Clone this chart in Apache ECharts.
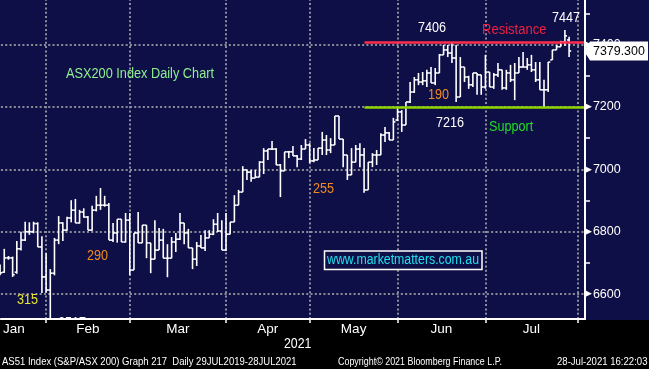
<!DOCTYPE html>
<html><head><meta charset="utf-8">
<script src="https://cdn.jsdelivr.net/npm/echarts@6/dist/echarts.min.js"></script>
<style>html,body{margin:0;padding:0;background:#0f0f48;}#c{width:649px;height:369px;}</style>
</head><body><div id="c"></div>
<script>
// ---- data (ASX200 daily OHLC) ----
const dates = [
'01-13','01-14','01-15','01-18','01-19','01-20','01-21','01-22','01-25','01-27','01-28','01-29',
'02-01','02-02','02-03','02-04','02-05','02-08','02-09','02-10','02-11','02-12','02-15','02-16','02-17','02-18','02-19','02-22','02-23','02-24','02-25','02-26',
'03-01','03-02','03-03','03-04','03-05','03-08','03-09','03-10','03-11','03-12','03-15','03-16','03-17','03-18','03-19','03-22','03-23','03-24','03-25','03-26','03-29','03-30','03-31',
'04-01','04-06','04-07','04-08','04-09','04-12','04-13','04-14','04-15','04-16','04-19','04-20','04-21','04-22','04-23','04-26','04-27','04-28','04-29','04-30',
'05-03','05-04','05-05','05-06','05-07','05-10','05-11','05-12','05-13','05-14','05-17','05-18','05-19','05-20','05-21','05-24','05-25','05-26','05-27','05-28','05-31',
'06-01','06-02','06-03','06-04','06-07','06-08','06-09','06-10','06-11','06-15','06-16','06-17','06-18','06-21','06-22','06-23','06-24','06-25','06-28','06-29','06-30',
'07-01','07-02','07-05','07-06','07-07','07-08','07-09','07-12','07-13','07-14','07-15','07-16','07-19','07-20','07-21','07-22','07-23','07-26','07-27','07-28'];
const open = [6685,6670,6716,6716,6670,6745,6773,6800,6800,6826,6751,6655,
6613,6667,6773,6828,6805,6844,6869,6828,6863,6847,6805,6869,6885,6885,6885,6773,6796,6840,6767,6837,
6677,6796,6764,6821,6764,6712,6741,6773,6715,6715,6767,6776,6828,6796,6748,6712,6754,6748,6780,6792,6824,6802,6741,
6792,6831,6885,6927,6998,6991,6972,6975,7023,7059,7065,7065,7014,6995,7056,7056,7043,7033,7065,7078,
7027,7030,7068,7094,7062,7078,7171,7097,7046,6982,7023,7065,7046,6934,7023,7046,7046,7110,7117,7094,7158,
7184,7142,7216,7248,7287,7280,7284,7309,7277,7309,7367,7383,7373,7357,7232,7328,7296,7271,7309,7303,7264,
7312,7264,7303,7319,7261,7309,7287,7309,7328,7328,7335,7319,7287,7255,7255,7351,7383,7393,7409,7415];
const high = [6695,6745,6722,6720,6770,6800,6832,6830,6832,6830,6785,6731,
6680,6780,6850,6830,6848,6901,6905,6870,6875,6850,6883,6915,6940,6915,6892,6828,6840,6840,6860,6860,
6796,6863,6821,6821,6764,6837,6812,6809,6760,6783,6796,6860,6828,6809,6748,6767,6789,6805,6805,6840,6860,6837,6860,
6831,6917,6934,7010,6998,6998,6998,7026,7068,7065,7091,7068,7017,7056,7059,7075,7046,7078,7097,7084,
7068,7068,7120,7110,7100,7171,7171,7097,7046,7068,7078,7084,7068,7023,7052,7062,7116,7136,7120,7165,7197,
7190,7216,7280,7296,7309,7312,7319,7328,7325,7370,7399,7399,7406,7399,7360,7328,7300,7309,7309,7303,7367,
7312,7309,7341,7319,7319,7335,7341,7360,7376,7357,7367,7344,7344,7287,7344,7383,7399,7412,7447,7425];
const low = [6660,6668,6710,6655,6665,6740,6770,6790,6795,6751,6603,6605,
6517,6660,6760,6770,6803,6830,6828,6826,6845,6805,6803,6865,6870,6880,6773,6767,6765,6767,6765,6661,
6677,6764,6764,6715,6667,6712,6741,6715,6654,6715,6735,6773,6760,6748,6680,6690,6748,6738,6780,6789,6799,6741,6738,
6792,6831,6885,6927,6966,6960,6972,6975,6985,7030,7062,7014,6911,6995,7036,7043,7007,7030,7065,7020,
7023,7030,7046,7046,7052,7078,7097,7007,6966,6982,7023,7007,6925,6934,7007,7014,7046,7088,7094,7094,7155,
7120,7142,7213,7245,7270,7270,7264,7277,7270,7309,7367,7360,7341,7216,7232,7280,7258,7264,7239,7239,7258,
7264,7258,7296,7255,7255,7280,7222,7309,7328,7319,7312,7280,7255,7200,7248,7351,7383,7393,7396,7360];
const close = [6668,6716,6716,6662,6745,6773,6800,6800,6826,6751,6655,6613,
6667,6773,6828,6805,6844,6869,6828,6863,6847,6805,6869,6885,6885,6885,6773,6796,6840,6767,6837,6677,
6796,6764,6821,6764,6712,6741,6773,6715,6715,6767,6776,6828,6796,6748,6712,6754,6748,6780,6792,6824,6802,6741,6792,
6831,6885,6927,6998,6991,6972,6975,7023,7059,7065,7065,7014,6995,7056,7056,7043,7033,7065,7078,7027,
7030,7068,7094,7062,7078,7171,7097,7046,6982,7023,7065,7046,6934,7023,7046,7046,7110,7117,7094,7152,7184,
7142,7216,7248,7287,7280,7284,7309,7277,7309,7367,7383,7373,7357,7232,7328,7296,7271,7309,7303,7264,7312,
7264,7303,7319,7261,7309,7287,7309,7328,7328,7335,7319,7287,7255,7255,7344,7383,7393,7409,7428,7379.3];

// ---- axis ticks / labels ----
const monthEndIdx = [11, 31, 54, 74, 95, 116, 138];       // gridlines (last trading day of each month)
const monthLabels = ['Jan','Feb','Mar','Apr','May','Jun','Jul'];
const monthLabelPos = [3.3, 21, 42.5, 64, 84.5, 105.5, 127];
const yTickLabels = [6600, 6800, 7000, 7200, 7400];
const yMinorTicks = [6700, 6900, 7100, 7300, 7500];
const resistance = 7406;
const support = 7200;

const rows = dates.map((d, i) => [i, open[i], high[i], low[i], close[i]]);
const X_MIN = 0.21, X_MAX = 139.8;
const NAVY = '#0f0f48';
const FONT = '"Liberation Sans", Arial, sans-serif';

function renderOHLC(params, api) {
  const k = api.value(0);
  const pO = api.coord([k, api.value(1)]);
  const pH = api.coord([k, api.value(2)]);
  const pL = api.coord([k, api.value(3)]);
  const pC = api.coord([k, api.value(4)]);
  const half = api.size([1, 0])[0] / 2;
  const st = { stroke: '#ffffff', lineWidth: 1.6 };
  return { type: 'group', children: [
    { type: 'line', shape: { x1: pH[0], y1: pH[1], x2: pL[0], y2: pL[1] }, style: st },
    { type: 'line', shape: { x1: pO[0] - half, y1: pO[1], x2: pO[0], y2: pO[1] }, style: st },
    { type: 'line', shape: { x1: pC[0], y1: pC[1], x2: pC[0] + half, y2: pC[1] }, style: st }
  ]};
}

const chart = echarts.init(document.getElementById('c'), null, { renderer: 'canvas' });
const gridStyle = { color: '#8c8c96', type: [2, 2.3], width: 2 };

chart.setOption({
  animation: false,
  backgroundColor: NAVY,
  grid: { left: 0, right: 64, top: 0, bottom: 50, containLabel: false },
  xAxis: {
    type: 'value', min: X_MIN, max: X_MAX, z: 10,
    axisLine: { show: true, lineStyle: { color: '#ffffff', width: 2 } },
    axisTick: { show: true, customValues: monthEndIdx, length: 4, lineStyle: { color: '#ffffff', width: 1.5 } },
    axisLabel: { customValues: monthLabelPos, formatter: v => monthLabels[monthLabelPos.indexOf(v)],
      color: '#ffffff', fontSize: 13.5, fontFamily: FONT, margin: 3 },
    splitLine: { show: false }
  },
  yAxis: {
    type: 'value', position: 'right', min: 6520, max: 7543, z: 10,
    axisLine: { show: true, lineStyle: { color: '#ffffff', width: 2 } },
    axisTick: { show: true, customValues: yMinorTicks, length: 5, lineStyle: { color: '#ffffff', width: 1.5 } },
    axisLabel: { customValues: yTickLabels, margin: 0,
      formatter: v => '{t|▶}{n|' + v + '}',
      rich: {
        t: { fontFamily: '"DejaVu Sans"', fontSize: 9, color: '#ffffff' },
        n: { fontFamily: FONT, fontSize: 12.5, color: '#ffffff', padding: [0, 0, 0, 1] }
      } },
    splitLine: { show: false }
  },
  series: [
    {
      type: 'custom', renderItem: renderOHLC, data: rows, encode: { x: 0, y: [1, 2, 3, 4] },
      z: 2, silent: true, clip: false,
      markLine: {
        z: 1, silent: true, symbol: ['none', 'none'], label: { show: false }, animation: false,
        lineStyle: gridStyle,
        data: monthEndIdx.map(k => ({ xAxis: k })).concat(yTickLabels.map(v => ({ yAxis: v })))
      }
    },
    {
      type: 'line', data: [], z: 3, silent: true,
      markLine: {
        z: 3, silent: true, symbol: ['none', 'none'], label: { show: false }, animation: false,
        data: [
          [{ coord: [87.1, resistance], lineStyle: { color: '#ff2d4b', width: 2.5, type: 'solid' } }, { coord: [X_MAX, resistance] }],
          [{ coord: [87.1, support], lineStyle: { color: '#8fd400', width: 2.5, type: 'solid' } }, { coord: [X_MAX, support] }]
        ]
      }
    }
  ]
});

function txt(t, x, y, color, size, sx, z) {
  return { type: 'text', x: x, y: y, scaleX: sx, z: z || 20, silent: true,
    style: { text: t, x: 0, y: 0, fill: color, font: size + 'px ' + FONT,
      verticalAlign: 'middle', textVerticalAlign: 'middle', align: 'left', textAlign: 'left' } };
}

const lastClose = close[close.length - 1];
const ty = chart.convertToPixel({ yAxisIndex: 0 }, lastClose);

chart.setOption({
  graphic: [
    { type: 'rect', z: 5, silent: true, shape: { x: 0, y: 320, width: 649, height: 49 }, style: { fill: '#000000' } },
    txt('6517', 58, 323, '#ffffff', 14, 0.9, 4),
    txt('ASX200 Index Daily Chart', 66, 74.5, '#8ef08e', 14, 0.91),
    txt('7406', 418, 28, '#ffffff', 14, 0.9),
    txt('Resistance', 482, 30.5, '#f0203e', 14, 0.93),
    txt('7447', 552, 18, '#ffffff', 14, 0.9),
    txt('190', 428, 95.5, '#f08c1e', 14, 0.9),
    txt('7216', 436, 123, '#ffffff', 14, 0.9),
    txt('Support', 489, 127.5, '#22dd22', 14, 0.9),
    txt('255', 313, 189, '#f08c1e', 14, 0.9),
    txt('290', 87, 256, '#f08c1e', 14, 0.9),
    txt('315', 17, 300.5, '#e6e632', 14, 0.9),
    { type: 'rect', z: 19, silent: true, shape: { x: 324.5, y: 251, width: 157.5, height: 18.5 },
      style: { fill: NAVY, stroke: '#ffffff', lineWidth: 1.5 } },
    txt('www.marketmatters.com.au', 327, 260.5, '#22e0ee', 14, 0.88),
    { type: 'polygon', z: 30, silent: true,
      shape: { points: [[584, ty], [590, ty - 9.5], [648, ty - 9.5], [648, ty + 9.5], [590, ty + 9.5]] },
      style: { fill: '#ffffff' } },
    txt('7379.300', 593, ty + 0.5, '#000000', 13.5, 0.92, 31),
    txt('2021', 284, 344, '#ffffff', 14, 0.88),
    txt('AS51 Index (S&P/ASX 200) Graph 217  Daily 29JUL2019-28JUL2021', 2, 362, '#ffffff', 11, 0.865),
    txt('Copyright\u00A9 2021 Bloomberg Finance L.P.', 338, 362, '#ffffff', 11, 0.81),
    txt('28-Jul-2021 16:22:03', 557, 362, '#ffffff', 11, 0.87)
  ]
});
</script>
</body></html>
